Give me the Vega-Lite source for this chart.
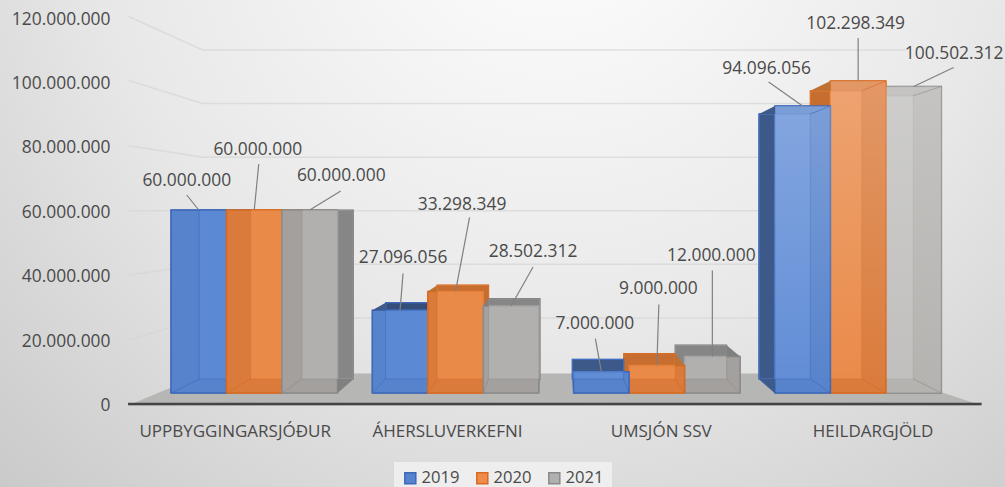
{"$schema":"https://vega.github.io/schema/vega-lite/v6.json","width":1005,"height":487,"padding":0,"autosize":{"type":"none"},"view":{"stroke":null,"fill":{"gradient":"radial","x1":0.55,"y1":0.15,"r1":0,"x2":0.55,"y2":0.15,"r2":0.9,"stops":[{"offset":0,"color":"#ffffff"},{"offset":0.5,"color":"#e8e8e8"},{"offset":1,"color":"#c2c2c2"}]}},"config":{"locale":{"number":{"decimal":",","thousands":".","grouping":[3],"currency":["","kr"]}},"font":"Open Sans"},
"datasets":{"bars":[
{"category":"UPPBYGGINGARSJÓÐUR","year":"2019","value":60000000,"id":"U19"},{"category":"UPPBYGGINGARSJÓÐUR","year":"2020","value":60000000,"id":"U20"},{"category":"UPPBYGGINGARSJÓÐUR","year":"2021","value":60000000,"id":"U21"},
{"category":"ÁHERSLUVERKEFNI","year":"2019","value":27096056,"id":"A19"},{"category":"ÁHERSLUVERKEFNI","year":"2020","value":33298349,"id":"A20"},{"category":"ÁHERSLUVERKEFNI","year":"2021","value":28502312,"id":"A21"},
{"category":"UMSJÓN SSV","year":"2019","value":7000000,"id":"S19"},{"category":"UMSJÓN SSV","year":"2020","value":9000000,"id":"S20"},{"category":"UMSJÓN SSV","year":"2021","value":12000000,"id":"S21"},
{"category":"HEILDARGJÖLD","year":"2019","value":94096056,"id":"H19"},{"category":"HEILDARGJÖLD","year":"2020","value":102298349,"id":"H20"},{"category":"HEILDARGJÖLD","year":"2021","value":100502312,"id":"H21"}],
"levels":[{"level":20000000},{"level":40000000},{"level":60000000},{"level":80000000},{"level":100000000},{"level":120000000}]},
"data":{"name":"bars"},
"resolve":{"scale":{"x":"independent","y":"independent","xOffset":"independent","shape":"independent","fill":"independent","stroke":"independent"},"axis":{"x":"independent","y":"independent"}},
"layer":[
{"data":{"name":"levels"},"mark":{"type":"point","filled":false,"size":4,"stroke":"#d6d6d6","strokeWidth":1.5},"encoding":{"x":{"datum":"UPPBYGGINGARSJÓÐUR","type":"nominal","axis":null,"scale":{"domain":["UPPBYGGINGARSJÓÐUR","ÁHERSLUVERKEFNI","UMSJÓN SSV","HEILDARGJÖLD"],"range":[154,959.2],"paddingInner":0,"paddingOuter":0}},"y":{"field":"level","type":"quantitative","axis":null,"scale":{"domain":[0,120000000],"range":[371.5,50],"nice":false}},"shape":{"field":"level","type":"nominal","legend":null,"scale":{"domain":[20000000,40000000,60000000,80000000,100000000,120000000],"range":["M-126,22L-52,0L651,0","M-126,11L-52,0L651,0","M-126,0L651,0","M-126,-11.5L-52,0L651,0","M-126,-23L-52,0L651,0","M-126,-33.5L-52,0L651,0"]}}}},
{"transform":[{"filter":"datum.id=='U19'"}],"mark":{"type":"point","filled":true,"size":4,"fill":"#b6b6b4","stroke":null,"opacity":1,"shape":"M-126.6,0L727,0L630,-32L-50,-32Z"},"encoding":{"x":{"field":"category","type":"nominal","sort":null,"title":null,"scale":{"domain":["UPPBYGGINGARSJÓÐUR","ÁHERSLUVERKEFNI","UMSJÓN SSV","HEILDARGJÖLD"],"range":[154,959.2],"paddingInner":0,"paddingOuter":0},"axis":{"orient":"bottom","offset":-83,"domain":false,"ticks":false,"labelAngle":0,"labelFontSize":17,"labelFont":"Open Sans","labelColor":"#4a4a4a","labelPadding":19,"labelLimit":300,"labelOffset":{"condition":[{"test":"datum.value=='UPPBYGGINGARSJÓÐUR'","value":-20},{"test":"datum.value=='ÁHERSLUVERKEFNI'","value":-9},{"test":"datum.value=='UMSJÓN SSV'","value":3.5}],"value":14}}},"y":{"datum":0,"type":"quantitative","title":null,"scale":{"domain":[0,120000000],"range":[405.5,19],"nice":false},"axis":{"orient":"left","offset":-128,"domain":false,"ticks":false,"grid":false,"values":[0,20000000,40000000,60000000,80000000,100000000,120000000],"format":",d","labelFontSize":17.4,"labelFont":"Open Sans","labelColor":"#4a4a4a","labelPadding":18}}}},
{"transform":[{"filter":"datum.id=='U19'"}],"mark":{"type":"point","filled":false,"size":4,"stroke":"#444444","strokeWidth":2.5,"opacity":1,"shape":"M-126.6,0L727,0"},"encoding":{"x":{"field":"category","type":"nominal","axis":null,"scale":{"domain":["UPPBYGGINGARSJÓÐUR","ÁHERSLUVERKEFNI","UMSJÓN SSV","HEILDARGJÖLD"],"range":[154,959.2],"paddingInner":0,"paddingOuter":0}},"y":{"datum":0,"type":"quantitative","axis":null,"scale":{"domain":[0,120000000],"range":[404,18],"nice":false}}}},
{"mark":{"type":"bar"},"encoding":{"x":{"field":"category","type":"nominal","axis":null,"scale":{"domain":["UPPBYGGINGARSJÓÐUR","ÁHERSLUVERKEFNI","UMSJÓN SSV","HEILDARGJÖLD"],"range":[154,959.2],"paddingInner":0,"paddingOuter":0}},"xOffset":{"field":"year","type":"nominal","scale":{"domain":["2019","2020","2021"],"range":[17,183.5],"paddingInner":0,"paddingOuter":0}},"y":{"field":"value","type":"quantitative","stack":null,"axis":null,"scale":{"domain":[0,120000000],"range":[393,27],"nice":false}},"fill":{"field":"year","type":"nominal","scale":{"domain":["2019","2020","2021"],"range":["#5683cc","#ee8c4c","#b0b0b0"]},"legend":{"orient":"none","legendX":394,"legendY":462,"direction":"horizontal","title":null,"symbolType":"square","symbolSize":121,"symbolStrokeWidth":1.5,"fillColor":"#eeeeee","padding":8,"labelFontSize":16.6,"labelFont":"Open Sans","labelColor":"#4a4a4a","labelOffset":3,"columnPadding":13,"rowPadding":0}},"stroke":{"field":"year","type":"nominal","scale":{"domain":["2019","2020","2021"],"range":["#3d68b8","#d8691f","#8a8a8a"]},"legend":{"orient":"none","legendX":394,"legendY":462,"direction":"horizontal","title":null,"symbolType":"square","symbolSize":121,"symbolStrokeWidth":1.5,"fillColor":"#eeeeee","padding":8,"labelFontSize":16.6,"labelFont":"Open Sans","labelColor":"#4a4a4a","labelOffset":3,"columnPadding":13,"rowPadding":0}}}},
{"transform":[{"filter":"test(/^[UA]19/,datum.id)"}],"mark":{"type":"bar","fill":"#23395f","stroke":"#3d68b8","strokeWidth":1.2},"encoding":{"x":{"field":"category","type":"nominal","axis":null,"scale":{"domain":["UPPBYGGINGARSJÓÐUR","ÁHERSLUVERKEFNI","UMSJÓN SSV","HEILDARGJÖLD"],"range":[183.3,929.7],"paddingInner":0,"paddingOuter":0}},"xOffset":{"field":"year","type":"nominal","scale":{"domain":["2019","2020","2021"],"range":[15.8,170.1],"paddingInner":0,"paddingOuter":0}},"y":{"field":"value","type":"quantitative","stack":null,"axis":null,"scale":{"domain":[0,120000000],"range":[379,41],"nice":false}}}},
{"transform":[{"filter":"test(/^[UA]19/,datum.id)"}],"mark":{"type":"bar","fill":"#5683cc","stroke":"#3d68b8","strokeWidth":1.5},"encoding":{"x":{"field":"category","type":"nominal","axis":null,"scale":{"domain":["UPPBYGGINGARSJÓÐUR","ÁHERSLUVERKEFNI","UMSJÓN SSV","HEILDARGJÖLD"],"range":[154,959.2],"paddingInner":0,"paddingOuter":0}},"xOffset":{"field":"year","type":"nominal","scale":{"domain":["2019","2020","2021"],"range":[17,183.5],"paddingInner":0,"paddingOuter":0}},"y":{"field":"value","type":"quantitative","stack":null,"axis":null,"scale":{"domain":[0,120000000],"range":[393,27],"nice":false}}}},
{"transform":[{"filter":"test(/^[UA]19/,datum.id)"}],"mark":{"type":"bar","fill":"#7aa5ee","fillOpacity":0.2,"stroke":"#3d68b8","strokeWidth":1,"strokeOpacity":0.55},"encoding":{"x":{"field":"category","type":"nominal","axis":null,"scale":{"domain":["UPPBYGGINGARSJÓÐUR","ÁHERSLUVERKEFNI","UMSJÓN SSV","HEILDARGJÖLD"],"range":[183.3,929.7],"paddingInner":0,"paddingOuter":0}},"xOffset":{"field":"year","type":"nominal","scale":{"domain":["2019","2020","2021"],"range":[15.8,170.1],"paddingInner":0,"paddingOuter":0}},"y":{"field":"value","type":"quantitative","stack":null,"axis":null,"scale":{"domain":[0,120000000],"range":[379,41],"nice":false}}}},
{"transform":[{"filter":"test(/^[UA]20/,datum.id)"}],"mark":{"type":"bar","fill":"#a04a10","stroke":"#d8691f","strokeWidth":1.2},"encoding":{"x":{"field":"category","type":"nominal","axis":null,"scale":{"domain":["UPPBYGGINGARSJÓÐUR","ÁHERSLUVERKEFNI","UMSJÓN SSV","HEILDARGJÖLD"],"range":[183.3,929.7],"paddingInner":0,"paddingOuter":0}},"xOffset":{"field":"year","type":"nominal","scale":{"domain":["2019","2020","2021"],"range":[15.8,170.1],"paddingInner":0,"paddingOuter":0}},"y":{"field":"value","type":"quantitative","stack":null,"axis":null,"scale":{"domain":[0,120000000],"range":[379,41],"nice":false}}}},
{"transform":[{"filter":"test(/^[UA]20/,datum.id)"}],"mark":{"type":"bar","fill":"#da7b3b","stroke":"#d8691f","strokeWidth":1.5},"encoding":{"x":{"field":"category","type":"nominal","axis":null,"scale":{"domain":["UPPBYGGINGARSJÓÐUR","ÁHERSLUVERKEFNI","UMSJÓN SSV","HEILDARGJÖLD"],"range":[154,959.2],"paddingInner":0,"paddingOuter":0}},"xOffset":{"field":"year","type":"nominal","scale":{"domain":["2019","2020","2021"],"range":[17,183.5],"paddingInner":0,"paddingOuter":0}},"y":{"field":"value","type":"quantitative","stack":null,"axis":null,"scale":{"domain":[0,120000000],"range":[393,27],"nice":false}}}},
{"transform":[{"filter":"test(/^[UA]20/,datum.id)"}],"mark":{"type":"bar","fill":"#ffa35f","fillOpacity":0.4,"stroke":"#d8691f","strokeWidth":0.8,"strokeOpacity":0.55},"encoding":{"x":{"field":"category","type":"nominal","axis":null,"scale":{"domain":["UPPBYGGINGARSJÓÐUR","ÁHERSLUVERKEFNI","UMSJÓN SSV","HEILDARGJÖLD"],"range":[183.3,929.7],"paddingInner":0,"paddingOuter":0}},"xOffset":{"field":"year","type":"nominal","scale":{"domain":["2019","2020","2021"],"range":[15.8,170.1],"paddingInner":0,"paddingOuter":0}},"y":{"field":"value","type":"quantitative","stack":null,"axis":null,"scale":{"domain":[0,120000000],"range":[379,41],"nice":false}}}},
{"transform":[{"filter":"test(/^[UA]21/,datum.id)"}],"mark":{"type":"bar","fill":"#555555","stroke":"#808080","strokeWidth":1.2},"encoding":{"x":{"field":"category","type":"nominal","axis":null,"scale":{"domain":["UPPBYGGINGARSJÓÐUR","ÁHERSLUVERKEFNI","UMSJÓN SSV","HEILDARGJÖLD"],"range":[183.3,929.7],"paddingInner":0,"paddingOuter":0}},"xOffset":{"field":"year","type":"nominal","scale":{"domain":["2019","2020","2021"],"range":[15.8,170.1],"paddingInner":0,"paddingOuter":0}},"y":{"field":"value","type":"quantitative","stack":null,"axis":null,"scale":{"domain":[0,120000000],"range":[379,41],"nice":false}}}},
{"transform":[{"filter":"test(/^[UA]21/,datum.id)"}],"mark":{"type":"bar","fill":"#a3a09d","stroke":"#8a8a8a","strokeWidth":1.5},"encoding":{"x":{"field":"category","type":"nominal","axis":null,"scale":{"domain":["UPPBYGGINGARSJÓÐUR","ÁHERSLUVERKEFNI","UMSJÓN SSV","HEILDARGJÖLD"],"range":[154,959.2],"paddingInner":0,"paddingOuter":0}},"xOffset":{"field":"year","type":"nominal","scale":{"domain":["2019","2020","2021"],"range":[17,183.5],"paddingInner":0,"paddingOuter":0}},"y":{"field":"value","type":"quantitative","stack":null,"axis":null,"scale":{"domain":[0,120000000],"range":[393,27],"nice":false}}}},
{"transform":[{"filter":"test(/^[UA]21/,datum.id)"}],"mark":{"type":"bar","fill":"#c4c4c4","fillOpacity":0.45,"stroke":"#8a8a8a","strokeWidth":0.8,"strokeOpacity":0.55},"encoding":{"x":{"field":"category","type":"nominal","axis":null,"scale":{"domain":["UPPBYGGINGARSJÓÐUR","ÁHERSLUVERKEFNI","UMSJÓN SSV","HEILDARGJÖLD"],"range":[183.3,929.7],"paddingInner":0,"paddingOuter":0}},"xOffset":{"field":"year","type":"nominal","scale":{"domain":["2019","2020","2021"],"range":[15.8,170.1],"paddingInner":0,"paddingOuter":0}},"y":{"field":"value","type":"quantitative","stack":null,"axis":null,"scale":{"domain":[0,120000000],"range":[379,41],"nice":false}}}},
{"transform":[{"filter":"test(/^[SH]21/,datum.id)"}],"mark":{"type":"bar","fill":"#555555","stroke":"#808080","strokeWidth":1.2},"encoding":{"x":{"field":"category","type":"nominal","axis":null,"scale":{"domain":["UPPBYGGINGARSJÓÐUR","ÁHERSLUVERKEFNI","UMSJÓN SSV","HEILDARGJÖLD"],"range":[183.3,929.7],"paddingInner":0,"paddingOuter":0}},"xOffset":{"field":"year","type":"nominal","scale":{"domain":["2019","2020","2021"],"range":[15.8,170.1],"paddingInner":0,"paddingOuter":0}},"y":{"field":"value","type":"quantitative","stack":null,"axis":null,"scale":{"domain":[0,120000000],"range":[379,41],"nice":false}}}},
{"transform":[{"filter":"test(/^[SH]21/,datum.id)"}],"mark":{"type":"bar","fill":"#a3a09d","stroke":"#8a8a8a","strokeWidth":1.5},"encoding":{"x":{"field":"category","type":"nominal","axis":null,"scale":{"domain":["UPPBYGGINGARSJÓÐUR","ÁHERSLUVERKEFNI","UMSJÓN SSV","HEILDARGJÖLD"],"range":[154,959.2],"paddingInner":0,"paddingOuter":0}},"xOffset":{"field":"year","type":"nominal","scale":{"domain":["2019","2020","2021"],"range":[17,183.5],"paddingInner":0,"paddingOuter":0}},"y":{"field":"value","type":"quantitative","stack":null,"axis":null,"scale":{"domain":[0,120000000],"range":[393,27],"nice":false}}}},
{"transform":[{"filter":"test(/^[SH]21/,datum.id)"}],"mark":{"type":"bar","fill":"#c4c4c4","fillOpacity":0.45,"stroke":"#8a8a8a","strokeWidth":0.8,"strokeOpacity":0.55},"encoding":{"x":{"field":"category","type":"nominal","axis":null,"scale":{"domain":["UPPBYGGINGARSJÓÐUR","ÁHERSLUVERKEFNI","UMSJÓN SSV","HEILDARGJÖLD"],"range":[183.3,929.7],"paddingInner":0,"paddingOuter":0}},"xOffset":{"field":"year","type":"nominal","scale":{"domain":["2019","2020","2021"],"range":[15.8,170.1],"paddingInner":0,"paddingOuter":0}},"y":{"field":"value","type":"quantitative","stack":null,"axis":null,"scale":{"domain":[0,120000000],"range":[379,41],"nice":false}}}},
{"transform":[{"filter":"datum.id=='H21'"}],"mark":{"type":"bar","stroke":null,"fill":"#ffffff","fillOpacity":0.2},"encoding":{"x":{"field":"category","type":"nominal","axis":null,"scale":{"domain":["UPPBYGGINGARSJÓÐUR","ÁHERSLUVERKEFNI","UMSJÓN SSV","HEILDARGJÖLD"],"range":[154,959.2],"paddingInner":0,"paddingOuter":0}},"xOffset":{"field":"year","type":"nominal","scale":{"domain":["2019","2020","2021"],"range":[17,183.5],"paddingInner":0,"paddingOuter":0}},"y":{"field":"value","type":"quantitative","stack":null,"axis":null,"scale":{"domain":[0,120000000],"range":[393,27],"nice":false}}}},
{"transform":[{"filter":"test(/^[SH]20/,datum.id)"}],"mark":{"type":"bar","fill":"#a04a10","stroke":"#d8691f","strokeWidth":1.2},"encoding":{"x":{"field":"category","type":"nominal","axis":null,"scale":{"domain":["UPPBYGGINGARSJÓÐUR","ÁHERSLUVERKEFNI","UMSJÓN SSV","HEILDARGJÖLD"],"range":[183.3,929.7],"paddingInner":0,"paddingOuter":0}},"xOffset":{"field":"year","type":"nominal","scale":{"domain":["2019","2020","2021"],"range":[15.8,170.1],"paddingInner":0,"paddingOuter":0}},"y":{"field":"value","type":"quantitative","stack":null,"axis":null,"scale":{"domain":[0,120000000],"range":[379,41],"nice":false}}}},
{"transform":[{"filter":"test(/^[SH]20/,datum.id)"}],"mark":{"type":"bar","fill":"#da7b3b","stroke":"#d8691f","strokeWidth":1.5},"encoding":{"x":{"field":"category","type":"nominal","axis":null,"scale":{"domain":["UPPBYGGINGARSJÓÐUR","ÁHERSLUVERKEFNI","UMSJÓN SSV","HEILDARGJÖLD"],"range":[154,959.2],"paddingInner":0,"paddingOuter":0}},"xOffset":{"field":"year","type":"nominal","scale":{"domain":["2019","2020","2021"],"range":[17,183.5],"paddingInner":0,"paddingOuter":0}},"y":{"field":"value","type":"quantitative","stack":null,"axis":null,"scale":{"domain":[0,120000000],"range":[393,27],"nice":false}}}},
{"transform":[{"filter":"test(/^[SH]20/,datum.id)"}],"mark":{"type":"bar","fill":"#ffa35f","fillOpacity":0.4,"stroke":"#d8691f","strokeWidth":0.8,"strokeOpacity":0.55},"encoding":{"x":{"field":"category","type":"nominal","axis":null,"scale":{"domain":["UPPBYGGINGARSJÓÐUR","ÁHERSLUVERKEFNI","UMSJÓN SSV","HEILDARGJÖLD"],"range":[183.3,929.7],"paddingInner":0,"paddingOuter":0}},"xOffset":{"field":"year","type":"nominal","scale":{"domain":["2019","2020","2021"],"range":[15.8,170.1],"paddingInner":0,"paddingOuter":0}},"y":{"field":"value","type":"quantitative","stack":null,"axis":null,"scale":{"domain":[0,120000000],"range":[379,41],"nice":false}}}},
{"transform":[{"filter":"test(/^[SH]19/,datum.id)"}],"mark":{"type":"bar","fill":"#23395f","stroke":"#3d68b8","strokeWidth":1.2},"encoding":{"x":{"field":"category","type":"nominal","axis":null,"scale":{"domain":["UPPBYGGINGARSJÓÐUR","ÁHERSLUVERKEFNI","UMSJÓN SSV","HEILDARGJÖLD"],"range":[183.3,929.7],"paddingInner":0,"paddingOuter":0}},"xOffset":{"field":"year","type":"nominal","scale":{"domain":["2019","2020","2021"],"range":[15.8,170.1],"paddingInner":0,"paddingOuter":0}},"y":{"field":"value","type":"quantitative","stack":null,"axis":null,"scale":{"domain":[0,120000000],"range":[379,41],"nice":false}}}},
{"transform":[{"filter":"test(/^[SH]19/,datum.id)"}],"mark":{"type":"bar","fill":"#5683cc","stroke":"#3d68b8","strokeWidth":1.5},"encoding":{"x":{"field":"category","type":"nominal","axis":null,"scale":{"domain":["UPPBYGGINGARSJÓÐUR","ÁHERSLUVERKEFNI","UMSJÓN SSV","HEILDARGJÖLD"],"range":[154,959.2],"paddingInner":0,"paddingOuter":0}},"xOffset":{"field":"year","type":"nominal","scale":{"domain":["2019","2020","2021"],"range":[17,183.5],"paddingInner":0,"paddingOuter":0}},"y":{"field":"value","type":"quantitative","stack":null,"axis":null,"scale":{"domain":[0,120000000],"range":[393,27],"nice":false}}}},
{"transform":[{"filter":"test(/^[SH]19/,datum.id)"}],"mark":{"type":"bar","fill":"#7aa5ee","fillOpacity":0.3,"stroke":"#3d68b8","strokeWidth":1,"strokeOpacity":0.55},"encoding":{"x":{"field":"category","type":"nominal","axis":null,"scale":{"domain":["UPPBYGGINGARSJÓÐUR","ÁHERSLUVERKEFNI","UMSJÓN SSV","HEILDARGJÖLD"],"range":[183.3,929.7],"paddingInner":0,"paddingOuter":0}},"xOffset":{"field":"year","type":"nominal","scale":{"domain":["2019","2020","2021"],"range":[15.8,170.1],"paddingInner":0,"paddingOuter":0}},"y":{"field":"value","type":"quantitative","stack":null,"axis":null,"scale":{"domain":[0,120000000],"range":[379,41],"nice":false}}}},
{"transform":[{"filter":"test(/^H/,datum.id)"}],"mark":{"type":"bar","stroke":null,"fill":{"gradient":"linear","x1":0,"y1":0,"x2":0,"y2":1,"stops":[{"offset":0,"color":"rgba(255,255,255,0.22)"},{"offset":1,"color":"rgba(255,255,255,0)"}]}},"encoding":{"x":{"field":"category","type":"nominal","axis":null,"scale":{"domain":["UPPBYGGINGARSJÓÐUR","ÁHERSLUVERKEFNI","UMSJÓN SSV","HEILDARGJÖLD"],"range":[154,959.2],"paddingInner":0,"paddingOuter":0}},"xOffset":{"field":"year","type":"nominal","scale":{"domain":["2019","2020","2021"],"range":[17,183.5],"paddingInner":0,"paddingOuter":0}},"y":{"field":"value","type":"quantitative","stack":null,"axis":null,"scale":{"domain":[0,120000000],"range":[393,27],"nice":false}}}},
{"transform":[{"filter":"test(/^(A|S2|H19|H20|U21)/,datum.id)"}],"mark":{"type":"point","filled":true,"size":4,"stroke":null,"opacity":1},"encoding":{"x":{"field":"category","type":"nominal","axis":null,"scale":{"domain":["UPPBYGGINGARSJÓÐUR","ÁHERSLUVERKEFNI","UMSJÓN SSV","HEILDARGJÖLD"],"range":[154,959.2],"paddingInner":0,"paddingOuter":0}},"xOffset":{"field":"year","type":"nominal","scale":{"domain":["2019","2020","2021"],"range":[44.75,155.75],"paddingInner":0,"paddingOuter":0}},"y":{"field":"value","type":"quantitative","stack":null,"axis":null,"scale":{"domain":[0,120000000],"range":[393,27],"nice":false}},"fill":{"field":"year","type":"nominal","legend":null,"scale":{"domain":["2019","2020","2021"],"range":["#3d5a8a","#c0702f","#808080"]}},"shape":{"field":"id","type":"nominal","legend":null,"scale":{"domain":["U21","A19","A20","A21","S20","S21","H19","H20"],"range":["M27.75,183L43.65,169L27.75,169Z","M-27.75,0L-14.45,-7.7L-14.45,0Z","M-27.75,0L-18.45,-6.2L-18.45,0Z","M-27.75,0L-22.55,-7.4L-22.55,0Z","M27.75,0L18.25,-11.95L18.25,0Z","M27.75,0L14.25,-11.2L14.25,0Z","M-27.75,0L-43.75,8L-27.75,8ZM-43.75,273L-27.75,287L-27.75,273Z","M-27.75,0L-47.85,9.8L-27.75,9.8Z"]}}}},
{"mark":{"type":"point","filled":false,"size":4,"strokeWidth":1,"strokeOpacity":0.6,"opacity":1},"encoding":{"x":{"field":"category","type":"nominal","axis":null,"scale":{"domain":["UPPBYGGINGARSJÓÐUR","ÁHERSLUVERKEFNI","UMSJÓN SSV","HEILDARGJÖLD"],"range":[154,959.2],"paddingInner":0,"paddingOuter":0}},"xOffset":{"field":"year","type":"nominal","scale":{"domain":["2019","2020","2021"],"range":[44.75,155.75],"paddingInner":0,"paddingOuter":0}},"y":{"field":"value","type":"quantitative","stack":null,"axis":null,"scale":{"domain":[0,120000000],"range":[393,27],"nice":false}},"stroke":{"field":"year","type":"nominal","legend":null,"scale":{"domain":["2019","2020","2021"],"range":["#3d68b8","#d8691f","#8a8a8a"]}},"shape":{"field":"id","type":"nominal","legend":null,"scale":{"domain":["U19","U20","U21","A19","A20","A21","S19","S20","S21","H19","H20","H21"],"range":["M-27.75,183L0.25,169","M-27.75,183L-3.75,169","M-27.75,183L-7.85,169M27.75,183L43.65,169","M-27.75,82.6L-14.45,68.6","M-27.75,101.6L-18.45,87.6","M-27.75,86.9L-22.55,72.9M27.75,86.9L28.95,72.9","M-27.75,21.35L-29.15,7.35M27.75,21.35L22.35,7.35","M27.75,27.45L18.25,13.45","M27.75,36.6L14.25,22.6","M-27.75,287L-43.75,273M27.75,287L7.65,273M27.75,0L7.65,8","M27.75,312L3.55,298M27.75,0L3.55,9.8","M27.75,306.5L-0.45,292.5M27.75,0L-0.45,9.3"]}}}},
{"mark":{"type":"point","filled":false,"size":4,"stroke":"#808080","strokeWidth":1.2,"opacity":1},"encoding":{"x":{"field":"category","type":"nominal","axis":null,"scale":{"domain":["UPPBYGGINGARSJÓÐUR","ÁHERSLUVERKEFNI","UMSJÓN SSV","HEILDARGJÖLD"],"range":[154,959.2],"paddingInner":0,"paddingOuter":0}},"xOffset":{"field":"year","type":"nominal","scale":{"domain":["2019","2020","2021"],"range":[44.75,155.75],"paddingInner":0,"paddingOuter":0}},"y":{"field":"value","type":"quantitative","stack":null,"axis":null,"scale":{"domain":[0,120000000],"range":[393,27],"nice":false}},"shape":{"field":"id","type":"nominal","legend":null,"scale":{"domain":["U19","U20","U21","A19","A20","A21","S19","S20","S21","H19","H20","H21"],"range":["M0,0L-12,-15","M0,0L4.5,-46","M0,0L31,-19","M0,0L3,-37","M0,0L14,-74","M0,0L22,-39","M0,0L-6,-33","M0,0L2,-61","M0,0L0,-86","M0,0L-34,-24","M0,0L0,-43","M0,0L40,-19"]}}}},
{"encoding":{"x":{"field":"category","type":"nominal","axis":null,"scale":{"domain":["UPPBYGGINGARSJÓÐUR","ÁHERSLUVERKEFNI","UMSJÓN SSV","HEILDARGJÖLD"],"range":[154,959.2],"paddingInner":0,"paddingOuter":0}},"xOffset":{"field":"year","type":"nominal","scale":{"domain":["2019","2020","2021"],"range":[44.75,155.75],"paddingInner":0,"paddingOuter":0}},"y":{"field":"value","type":"quantitative","stack":null,"axis":null,"scale":{"domain":[0,120000000],"range":[393,27],"nice":false}},"text":{"field":"value","type":"quantitative","format":",d"}},
"layer":[
{"transform":[{"filter":"datum.id=='U19'"}],"mark":{"type":"text","font":"Open Sans","fontSize":17.4,"fill":"#4a4a4a","dx":-12,"dy":-29}},
{"transform":[{"filter":"datum.id=='U20'"}],"mark":{"type":"text","font":"Open Sans","fontSize":17.4,"fill":"#4a4a4a","dx":3.5,"dy":-60}},
{"transform":[{"filter":"datum.id=='U21'"}],"mark":{"type":"text","font":"Open Sans","fontSize":17.4,"fill":"#4a4a4a","dx":31.5,"dy":-34}},
{"transform":[{"filter":"datum.id=='A19'"}],"mark":{"type":"text","font":"Open Sans","fontSize":17.4,"fill":"#4a4a4a","dx":3,"dy":-52}},
{"transform":[{"filter":"datum.id=='A20'"}],"mark":{"type":"text","font":"Open Sans","fontSize":17.4,"fill":"#4a4a4a","dx":6.5,"dy":-86}},
{"transform":[{"filter":"datum.id=='A21'"}],"mark":{"type":"text","font":"Open Sans","fontSize":17.4,"fill":"#4a4a4a","dx":22,"dy":-54}},
{"transform":[{"filter":"datum.id=='S19'"}],"mark":{"type":"text","font":"Open Sans","fontSize":17.4,"fill":"#4a4a4a","dx":-6.5,"dy":-48}},
{"transform":[{"filter":"datum.id=='S20'"}],"mark":{"type":"text","font":"Open Sans","fontSize":17.4,"fill":"#4a4a4a","dx":1.5,"dy":-76.5}},
{"transform":[{"filter":"datum.id=='S21'"}],"mark":{"type":"text","font":"Open Sans","fontSize":17.4,"fill":"#4a4a4a","dx":-1,"dy":-100}},
{"transform":[{"filter":"datum.id=='H19'"}],"mark":{"type":"text","font":"Open Sans","fontSize":17.4,"fill":"#4a4a4a","dx":-36,"dy":-37}},
{"transform":[{"filter":"datum.id=='H20'"}],"mark":{"type":"text","font":"Open Sans","fontSize":17.4,"fill":"#4a4a4a","dx":-2.5,"dy":-57}},
{"transform":[{"filter":"datum.id=='H21'"}],"mark":{"type":"text","font":"Open Sans","fontSize":17.4,"fill":"#4a4a4a","dx":40.5,"dy":-32.5}}
]}
]}
